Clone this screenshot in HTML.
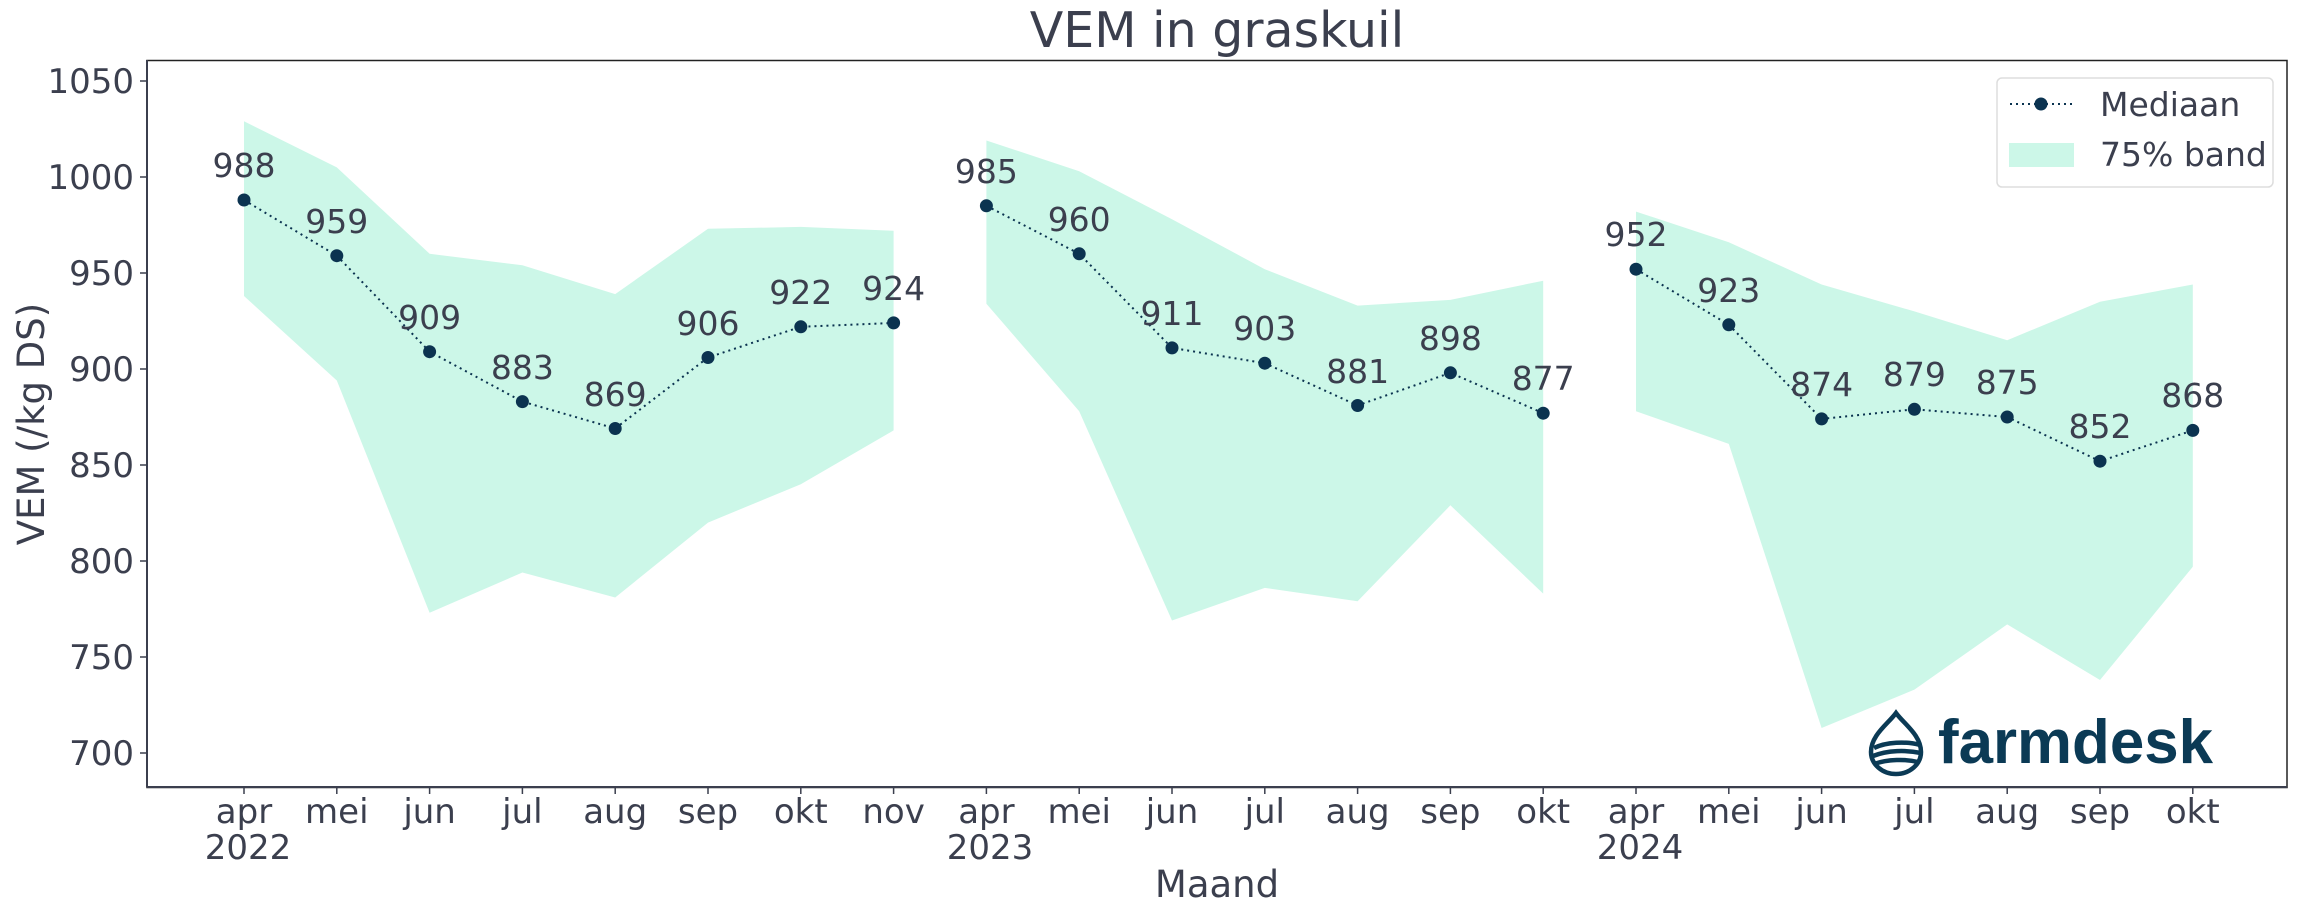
<!DOCTYPE html>
<html><head><meta charset="utf-8"><style>
html,body{margin:0;padding:0;background:#fff;}
svg{display:block;font-family:"DejaVu Sans","Liberation Sans",sans-serif;}
</style></head><body>
<svg width="2304" height="921" viewBox="0 0 2304 921" xmlns="http://www.w3.org/2000/svg">
<rect width="2304" height="921" fill="#fff"/>
<g fill="#ccf7e8">
<polygon points="244,121.3 336.8,167.4 429.6,253.8 522.4,265.3 615.2,294.1 708,228.8 800.8,226.9 893.6,230.8 893.6,430.4 800.8,484.2 708,522.6 615.2,597.5 522.4,572.5 429.6,612.8 336.8,380.5 244,296"/>
<polygon points="986.4,140.5 1079.2,171.2 1172,219.2 1264.8,269.2 1357.6,305.6 1450.4,299.9 1543.2,280.7 1543.2,593.6 1450.4,505.3 1357.6,601.3 1264.8,587.9 1172,620.5 1079.2,411.2 986.4,303.7"/>
<polygon points="1636,211.6 1728.8,242.3 1821.6,284.5 1914.4,311.4 2007.2,340.2 2100,301.8 2192.8,284.5 2192.8,566.8 2100,680 2007.2,624.4 1914.4,689.6 1821.6,728 1728.8,443.9 1636,411.2"/>
</g>
<g fill="none" stroke="#0b3350" stroke-width="2" stroke-dasharray="2,4">
<polyline points="244,200 336.8,255.7 429.6,351.7 522.4,401.6 615.2,428.5 708,357.5 800.8,326.8 893.6,322.9"/>
<polyline points="986.4,205.8 1079.2,253.8 1172,347.9 1264.8,363.2 1357.6,405.5 1450.4,372.8 1543.2,413.2"/>
<polyline points="1636,269.2 1728.8,324.8 1821.6,418.9 1914.4,409.3 2007.2,417 2100,461.2 2192.8,430.4"/>
</g>
<g fill="#0b3350">
<circle cx="244" cy="200" r="6.5"/><circle cx="336.8" cy="255.7" r="6.5"/><circle cx="429.6" cy="351.7" r="6.5"/><circle cx="522.4" cy="401.6" r="6.5"/><circle cx="615.2" cy="428.5" r="6.5"/><circle cx="708" cy="357.5" r="6.5"/><circle cx="800.8" cy="326.8" r="6.5"/><circle cx="893.6" cy="322.9" r="6.5"/>
<circle cx="986.4" cy="205.8" r="6.5"/><circle cx="1079.2" cy="253.8" r="6.5"/><circle cx="1172" cy="347.9" r="6.5"/><circle cx="1264.8" cy="363.2" r="6.5"/><circle cx="1357.6" cy="405.5" r="6.5"/><circle cx="1450.4" cy="372.8" r="6.5"/><circle cx="1543.2" cy="413.2" r="6.5"/>
<circle cx="1636" cy="269.2" r="6.5"/><circle cx="1728.8" cy="324.8" r="6.5"/><circle cx="1821.6" cy="418.9" r="6.5"/><circle cx="1914.4" cy="409.3" r="6.5"/><circle cx="2007.2" cy="417" r="6.5"/><circle cx="2100" cy="461.2" r="6.5"/><circle cx="2192.8" cy="430.4" r="6.5"/>
</g>
<g fill="#3b3f4e" font-size="33" text-anchor="middle">
<text x="244" y="177">988</text><text x="336.8" y="233">959</text><text x="429.6" y="329">909</text><text x="522.4" y="379">883</text><text x="615.2" y="406">869</text><text x="708" y="335">906</text><text x="800.8" y="304">922</text><text x="893.6" y="300">924</text>
<text x="986.4" y="183">985</text><text x="1079.2" y="231">960</text><text x="1172" y="325">911</text><text x="1264.8" y="340">903</text><text x="1357.6" y="383">881</text><text x="1450.4" y="350">898</text><text x="1543.2" y="390">877</text>
<text x="1636" y="246">952</text><text x="1728.8" y="302">923</text><text x="1821.6" y="396">874</text><text x="1914.4" y="386">879</text><text x="2007.2" y="394">875</text><text x="2100" y="438">852</text><text x="2192.8" y="407">868</text>
</g>
<rect x="147" y="60.5" width="2140" height="727" fill="none" stroke="#222" stroke-width="1.5"/>
<line x1="147" y1="787" x2="2287" y2="787" stroke="#3b3f4e" stroke-width="2"/>
<line x1="147" y1="60" x2="147" y2="787" stroke="#3b3f4e" stroke-width="2"/>
<g stroke="#3b3f4e" stroke-width="1.5">
<line x1="140" y1="81" x2="147" y2="81"/><line x1="140" y1="177" x2="147" y2="177"/><line x1="140" y1="273" x2="147" y2="273"/><line x1="140" y1="369" x2="147" y2="369"/><line x1="140" y1="465" x2="147" y2="465"/><line x1="140" y1="561" x2="147" y2="561"/><line x1="140" y1="657" x2="147" y2="657"/><line x1="140" y1="753" x2="147" y2="753"/>
</g>
<g fill="#3b3f4e" font-size="34" text-anchor="end">
<text x="134" y="93">1050</text><text x="134" y="189">1000</text><text x="134" y="285">950</text><text x="134" y="381">900</text><text x="134" y="477">850</text><text x="134" y="573">800</text><text x="134" y="669">750</text><text x="134" y="765">700</text>
</g>
<g stroke="#3b3f4e" stroke-width="1.5">
<line x1="244" y1="787" x2="244" y2="794"/><line x1="336.8" y1="787" x2="336.8" y2="794"/><line x1="429.6" y1="787" x2="429.6" y2="794"/><line x1="522.4" y1="787" x2="522.4" y2="794"/><line x1="615.2" y1="787" x2="615.2" y2="794"/><line x1="708" y1="787" x2="708" y2="794"/><line x1="800.8" y1="787" x2="800.8" y2="794"/><line x1="893.6" y1="787" x2="893.6" y2="794"/>
<line x1="986.4" y1="787" x2="986.4" y2="794"/><line x1="1079.2" y1="787" x2="1079.2" y2="794"/><line x1="1172" y1="787" x2="1172" y2="794"/><line x1="1264.8" y1="787" x2="1264.8" y2="794"/><line x1="1357.6" y1="787" x2="1357.6" y2="794"/><line x1="1450.4" y1="787" x2="1450.4" y2="794"/><line x1="1543.2" y1="787" x2="1543.2" y2="794"/>
<line x1="1636" y1="787" x2="1636" y2="794"/><line x1="1728.8" y1="787" x2="1728.8" y2="794"/><line x1="1821.6" y1="787" x2="1821.6" y2="794"/><line x1="1914.4" y1="787" x2="1914.4" y2="794"/><line x1="2007.2" y1="787" x2="2007.2" y2="794"/><line x1="2100" y1="787" x2="2100" y2="794"/><line x1="2192.8" y1="787" x2="2192.8" y2="794"/>
</g>
<g fill="#3b3f4e" font-size="34" text-anchor="middle">
<text x="244" y="823">apr</text><text x="336.8" y="823">mei</text><text x="429.6" y="823">jun</text><text x="522.4" y="823">jul</text><text x="615.2" y="823">aug</text><text x="708" y="823">sep</text><text x="800.8" y="823">okt</text><text x="893.6" y="823">nov</text>
<text x="986.4" y="823">apr</text><text x="1079.2" y="823">mei</text><text x="1172" y="823">jun</text><text x="1264.8" y="823">jul</text><text x="1357.6" y="823">aug</text><text x="1450.4" y="823">sep</text><text x="1543.2" y="823">okt</text>
<text x="1636" y="823">apr</text><text x="1728.8" y="823">mei</text><text x="1821.6" y="823">jun</text><text x="1914.4" y="823">jul</text><text x="2007.2" y="823">aug</text><text x="2100" y="823">sep</text><text x="2192.8" y="823">okt</text>
<text x="248" y="859">2022</text><text x="990" y="859">2023</text><text x="1640" y="859">2024</text>
</g>
<text x="1217" y="897" fill="#3b3f4e" font-size="37" text-anchor="middle">Maand</text>
<text transform="translate(44,424) rotate(-90)" fill="#3b3f4e" font-size="37" text-anchor="middle">VEM (/kg DS)</text>
<text x="1217" y="47" fill="#3b3f4e" font-size="49" text-anchor="middle">VEM in graskuil</text>
<rect x="1997" y="78" width="276" height="109" rx="5" fill="#fff" stroke="#ddd" stroke-width="1.5"/>
<line x1="2010" y1="104" x2="2072" y2="104" stroke="#0b3350" stroke-width="2" stroke-dasharray="2,4"/>
<circle cx="2041" cy="104" r="6.5" fill="#0b3350"/>
<rect x="2009" y="143" width="65" height="24" fill="#ccf7e8"/>
<text x="2100" y="116" fill="#3b3f4e" font-size="33">Mediaan</text>
<text x="2100" y="166" fill="#3b3f4e" font-size="33">75% band</text>
<g fill="none" stroke="#0b3a55" stroke-width="4.5">
<path d="M1896,713 C1888,724 1871,735 1871,752 A25,22 0 0 0 1921,752 C1921,735 1904,724 1896,713 Z"/>
<path d="M1874,748 C1886,742 1906,741 1920,745"/>
<path d="M1873,756 C1888,750 1906,750 1921,753"/>
<path d="M1874,764 C1888,759 1906,759 1918,762"/>
</g>
<text x="1938" y="763" fill="#0b3a55" font-size="62" font-weight="bold" font-family="Liberation Sans, sans-serif" textLength="275" lengthAdjust="spacingAndGlyphs">farmdesk</text>
</svg>
</body></html>
